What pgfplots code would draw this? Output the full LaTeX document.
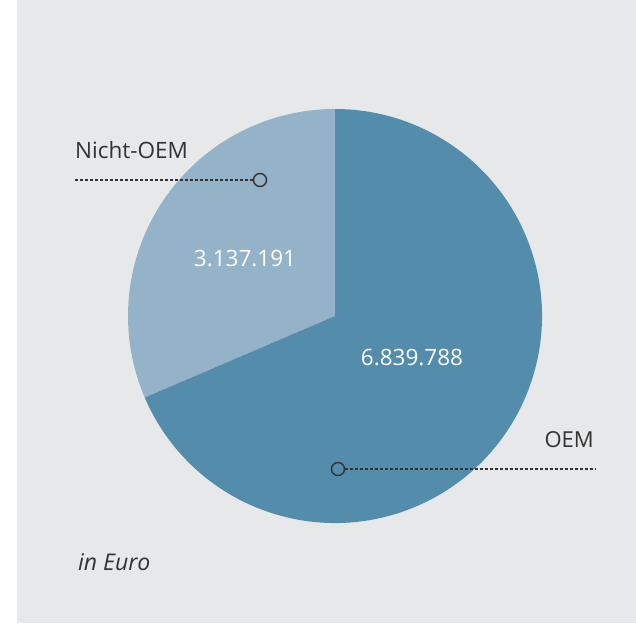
\documentclass[border=0pt]{standalone}
\usepackage{fontspec}
\setmainfont{Open Sans}
\usepackage{pgfplots}
\pgfplotsset{compat=1.18}
\definecolor{bg}{RGB}{231,232,234}
\definecolor{oem}{RGB}{83,141,171}
\definecolor{nonoem}{RGB}{149,179,200}
\definecolor{txt}{RGB}{51,51,51}

% values in thousand euro
\def\valOEM{6839.788}
\def\valNon{3137.191}

\begin{document}
\begin{tikzpicture}
\pgfmathsetmacro{\shareNon}{\valNon/(\valNon+\valOEM)}
\pgfmathsetmacro{\angEnd}{90+360*\shareNon}
\begin{axis}[
  width=636pt, height=623pt, scale only axis,
  xmin=0, xmax=636, ymin=0, ymax=623, y dir=reverse,
  hide axis, clip=false,
]
  \fill[white] (axis cs:0,0) rectangle (axis cs:636,623);
  \fill[bg] (axis cs:17,0) rectangle (axis cs:636,623);
  % pie sectors
  \fill[nonoem] (axis cs:335,316) -- +(90:207pt) arc[start angle=90, end angle=\angEnd, radius=207pt] -- cycle;
  \fill[oem] (axis cs:335,316) -- +(\angEnd:207pt) arc[start angle=\angEnd, end angle=450, radius=207pt] -- cycle;
  % values
  \node[anchor=base, text=white, font=\fontsize{22.5}{27}\selectfont] at (axis cs:245,266) {3.137.191};
  \node[anchor=base, text=white, font=\fontsize{22.5}{27}\selectfont] at (axis cs:412,365) {6.839.788};
  % leaders
  \draw[txt, line width=1.2pt, dash pattern=on 3pt off 2pt] (axis cs:75,180) -- (axis cs:253.5,180);
  \draw[txt, line width=1.4pt] (axis cs:260,180) circle[radius=6.5pt];
  \draw[txt, line width=1.2pt, dash pattern=on 3pt off 2pt] (axis cs:344.5,469) -- (axis cs:596,469);
  \draw[txt, line width=1.4pt] (axis cs:338,469) circle[radius=6.5pt];
  % labels
  \node[anchor=base west, inner sep=0pt, text=txt, font=\fontsize{22.5}{27}\selectfont] at (axis cs:75,158) {Nicht-OEM};
  \node[anchor=base east, inner sep=0pt, text=txt, font=\fontsize{22}{27}\selectfont] at (axis cs:594,447) {OEM};
  \node[anchor=base west, inner sep=0pt, text=txt, font=\fontsize{23}{27}\selectfont\itshape] at (axis cs:78,570) {in Euro};
\end{axis}
\end{tikzpicture}
\end{document}
